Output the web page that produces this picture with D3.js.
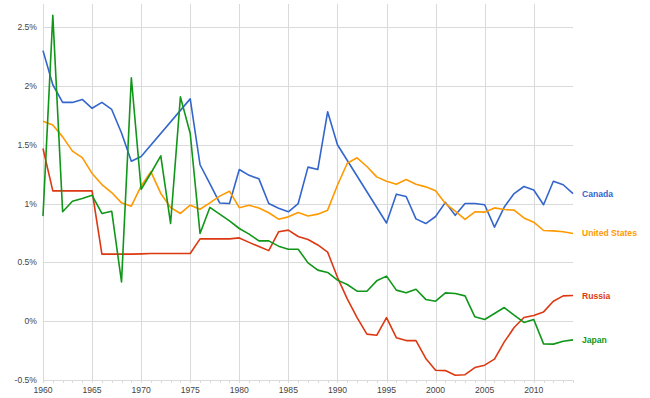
<!DOCTYPE html>
<html>
<head>
<meta charset="utf-8">
<script src="https://cdn.jsdelivr.net/npm/d3@7"></script>
<style>
  body { margin: 0; background: #fff; }
  svg { display: block; font-family: Arial, "Liberation Sans", sans-serif; }
  .grid line { stroke: #dadada; stroke-width: 1; shape-rendering: crispEdges; }
  .tick-label { fill: #444; font-size: 8.6px; }
  .line { fill: none; stroke-width: 1.6; stroke-linejoin: round; }
  .series-label { font-size: 8.6px; font-weight: bold; }
</style>
</head>
<body>
<svg width="650" height="398"></svg>
<script>
var years = d3.range(1960, 2015);

var yTicks = [-0.5, 0, 0.5, 1, 1.5, 2, 2.5];
var xTicks = [1960, 1965, 1970, 1975, 1980, 1985, 1990, 1995, 2000, 2005, 2010];

var seriesNames = ["Canada", "United States", "Russia", "Japan"];
var seriesColors = ["#3366cc", "#ff9900", "#dc3912", "#109618"];

// annual values, %, 1960..2014 (null = no data)
var canada = [2.30, 2.01, 1.86, 1.86, 1.885, 1.81, 1.86, 1.80, 1.60, 1.36,
  1.40, null, null, null, null, 1.89, 1.33, 1.17, 1.005, 1.00,
  1.29, 1.24, 1.21, 1.00, 0.96, 0.93, 1.00, 1.31, 1.29, 1.78,
  1.50, null, null, null, null, 0.835, 1.08, 1.06, 0.87, 0.83,
  0.89, 1.01, 0.90, 1.00, 1.00, 0.99, 0.80, 0.97, 1.085, 1.145,
  1.115, 0.99, 1.19, 1.16, 1.085];

var unitedStates = [1.70, 1.667, 1.567, 1.446, 1.39, 1.256, 1.162, 1.094, 1.006, 0.978,
  1.15, 1.27, 1.086, 0.967, 0.916, 0.986, 0.952, 1.006, 1.063, 1.105,
  0.965, 0.985, 0.962, 0.922, 0.867, 0.887, 0.924, 0.895, 0.91, 0.944,
  1.156, 1.343, 1.389, 1.315, 1.227, 1.19, 1.165, 1.205, 1.165, 1.142,
  1.108, 1.00, 0.935, 0.865, 0.93, 0.927, 0.963, 0.95, 0.944, 0.878,
  0.842, 0.771, 0.768, 0.76, 0.746];

var russia = [1.468, 1.108, 1.108, 1.108, 1.108, 1.108, 0.57, 0.57, 0.57, 0.57,
  0.572, 0.575, 0.575, 0.575, 0.575, 0.575, 0.70, 0.70, 0.70, 0.70,
  0.708, 0.67, 0.635, 0.60, 0.76, 0.774, 0.72, 0.695, 0.648, 0.587,
  0.373, 0.19, 0.03, -0.11, -0.12, 0.03, -0.14, -0.165, -0.165, -0.317,
  -0.417, -0.42, -0.46, -0.455, -0.394, -0.374, -0.323, -0.176, -0.054, 0.031,
  0.048, 0.079, 0.17, 0.215, 0.218];

var japan = [0.893, 2.60, 0.93, 1.02, 1.043, 1.07, 0.916, 0.935, 0.334, 2.07,
  1.12, 1.26, 1.406, 0.83, 1.907, 1.596, 0.746, 0.967, 0.91, 0.853,
  0.788, 0.74, 0.683, 0.683, 0.638, 0.612, 0.612, 0.496, 0.434, 0.414,
  0.349, 0.312, 0.255, 0.255, 0.343, 0.383, 0.264, 0.241, 0.272, 0.185,
  0.17, 0.241, 0.235, 0.215, 0.037, 0.014, 0.065, 0.116, 0.051, -0.011,
  0.014, -0.193, -0.195, -0.17, -0.159];

var seriesValues = [canada, unitedStates, russia, japan];

var pArea = [43, 3.6, 573, 380];

var xScale = d3.scaleLinear()
  .domain([1960, 2014])
  .range([pArea[0], pArea[2]]);

var yScale = d3.scaleLinear()
  .domain([-0.5, 2.7])
  .range([pArea[3], pArea[1]]);

var svg = d3.select("svg");
var g = svg.append("g");

// horizontal gridlines + y labels
var yGrid = g.append("g").attr("class", "grid");
yGrid.selectAll("line")
  .data(yTicks)
  .enter().append("line")
  .attr("x1", pArea[0])
  .attr("x2", pArea[2])
  .attr("y1", d => Math.round(yScale(d)) + 0.5)
  .attr("y2", d => Math.round(yScale(d)) + 0.5);

g.selectAll(".y-label")
  .data(yTicks)
  .enter().append("text")
  .attr("class", "tick-label")
  .attr("x", 37)
  .attr("y", d => yScale(d))
  .attr("dy", "0.35em")
  .attr("text-anchor", "end")
  .text(d => d + "%");

// vertical gridlines + x labels
var xGrid = g.append("g").attr("class", "grid");
xGrid.selectAll("line")
  .data(xTicks)
  .enter().append("line")
  .attr("x1", d => Math.round(xScale(d)) + 0.5)
  .attr("x2", d => Math.round(xScale(d)) + 0.5)
  .attr("y1", pArea[1])
  .attr("y2", pArea[3] + 3);

// minor year ticks under the axis
var minor = g.append("g").attr("class", "grid");
minor.selectAll("line")
  .data(years)
  .enter().append("line")
  .attr("x1", d => Math.round(xScale(d)) + 0.5)
  .attr("x2", d => Math.round(xScale(d)) + 0.5)
  .attr("y1", pArea[3])
  .attr("y2", pArea[3] + 3);

g.selectAll(".x-label")
  .data(xTicks)
  .enter().append("text")
  .attr("class", "tick-label")
  .attr("x", d => xScale(d))
  .attr("y", 393)
  .attr("text-anchor", "middle")
  .text(d => d);

// series lines
var line = d3.line()
  .x(d => xScale(d[0]))
  .y(d => yScale(d[1]));

seriesValues.forEach(function(vals, i) {
  var pts = years.map((yr, j) => [yr, vals[j]]).filter(d => d[1] != null);

  g.append("path")
    .datum(pts)
    .attr("class", "line")
    .attr("stroke", seriesColors[i])
    .attr("d", line);

  var last = pts[pts.length - 1];
  g.append("text")
    .attr("class", "series-label")
    .attr("x", xScale(last[0]) + 9)
    .attr("y", yScale(last[1]))
    .attr("dy", "0.35em")
    .attr("fill", seriesColors[i])
    .text(seriesNames[i]);
});
</script>
</body>
</html>
